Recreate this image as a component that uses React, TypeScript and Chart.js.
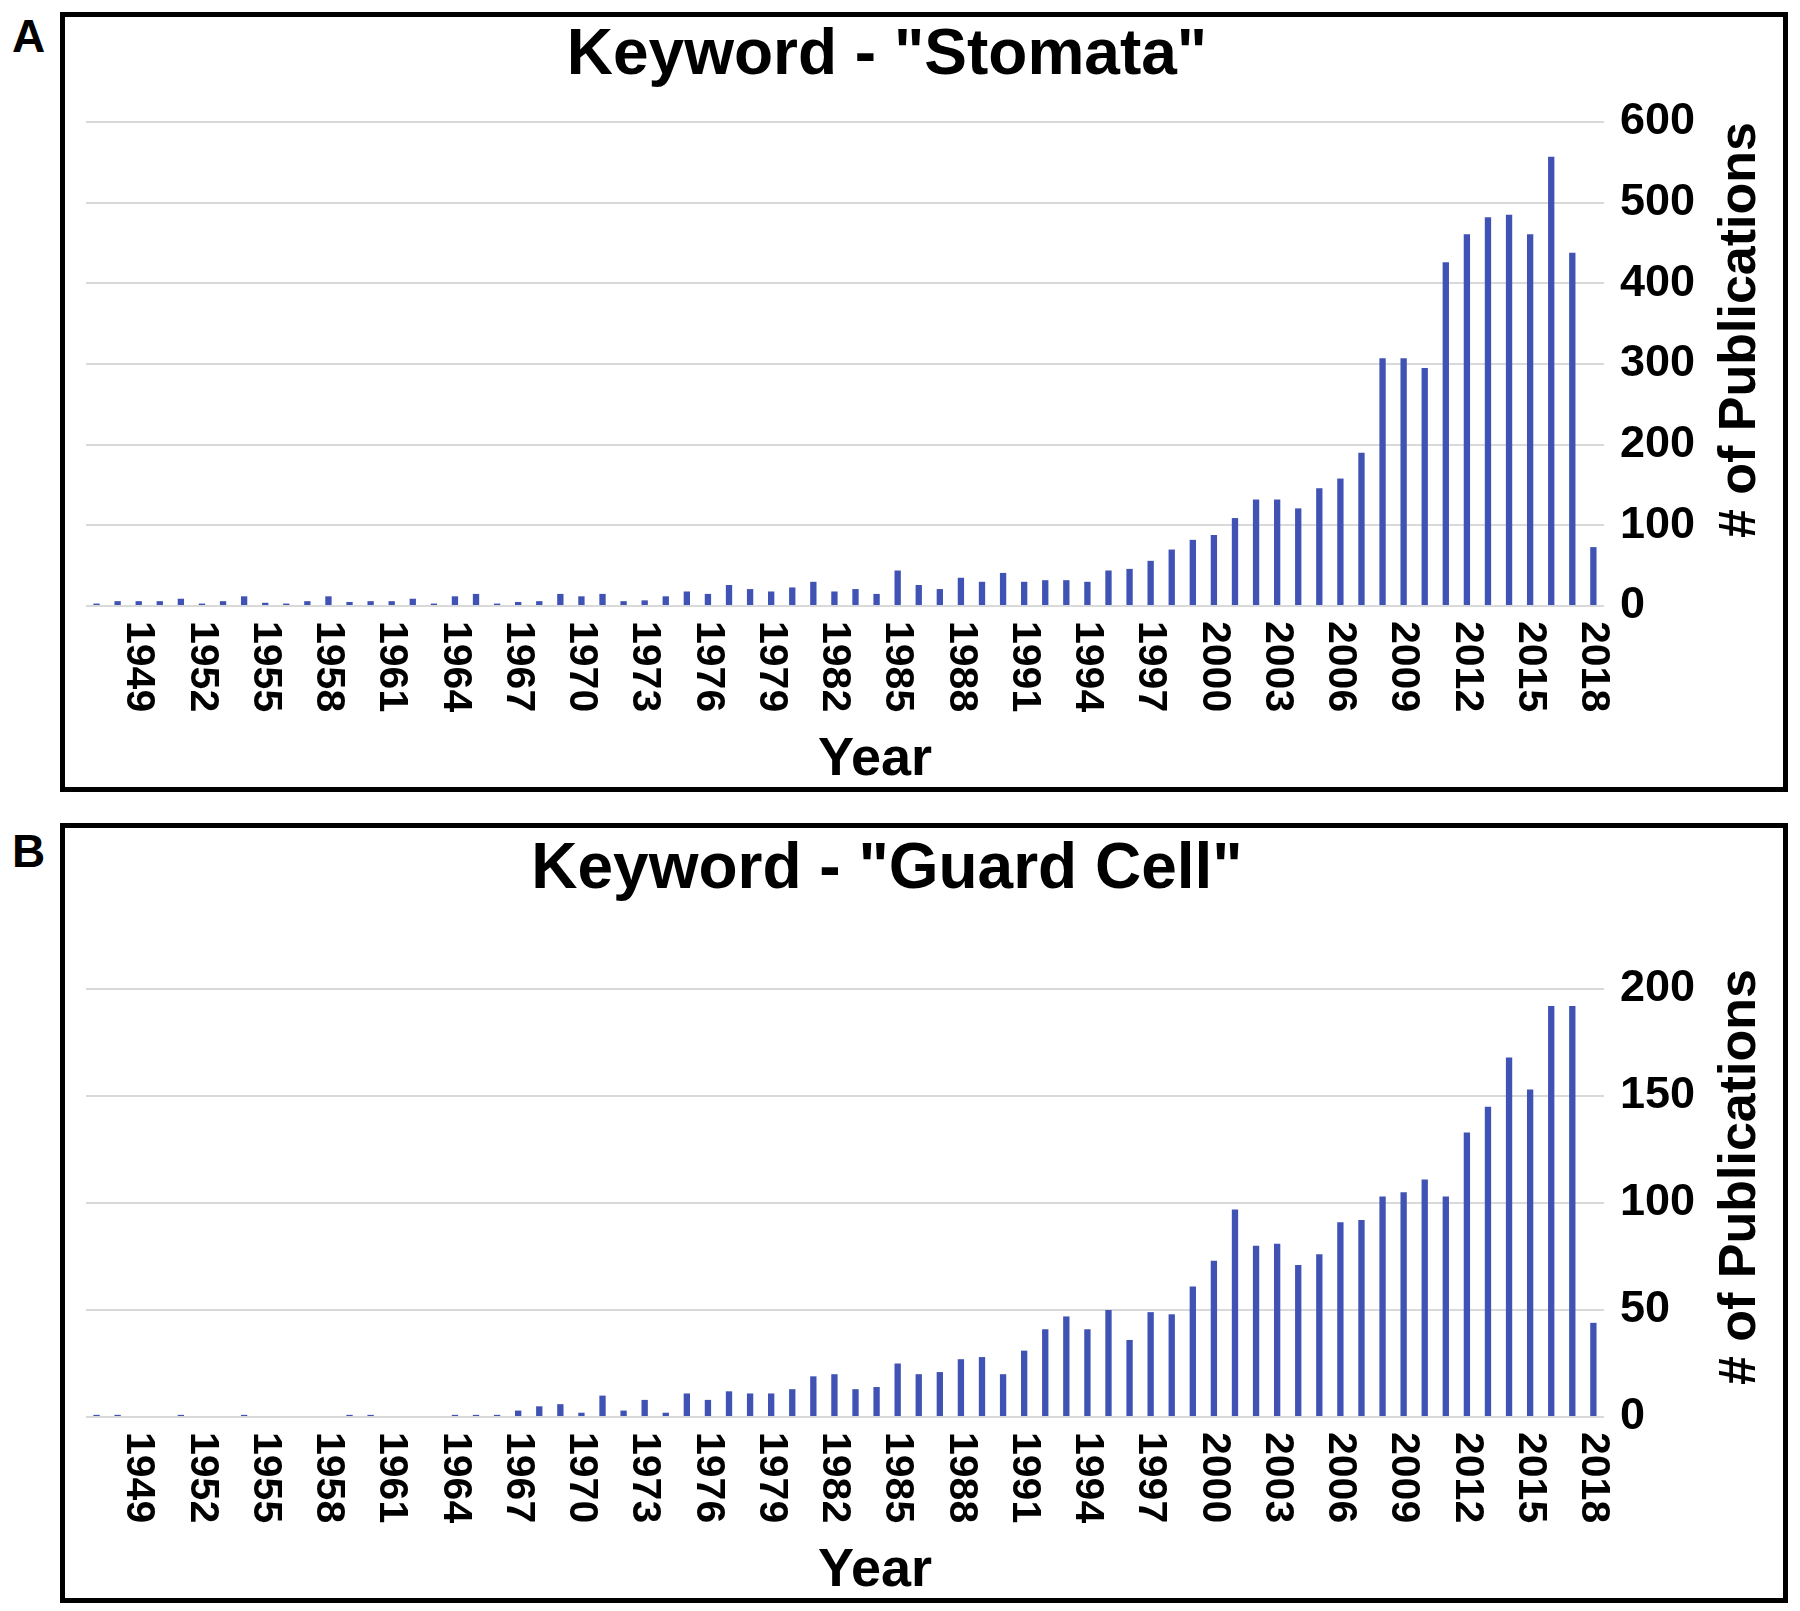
import React, { useEffect, useRef } from 'react';
import { Chart, registerables } from 'chart.js';

Chart.register(...registerables);

const FONT = '"Liberation Sans", Arial, Helvetica, sans-serif';
const BAR_BLUE = '#4052b4';
const GRID_GREY = '#d9d9d9';

const years = [
  '1947', '1948', '1949', '1950', '1951', '1952', '1953', '1954', '1955', '1956',
  '1957', '1958', '1959', '1960', '1961', '1962', '1963', '1964', '1965', '1966',
  '1967', '1968', '1969', '1970', '1971', '1972', '1973', '1974', '1975', '1976',
  '1977', '1978', '1979', '1980', '1981', '1982', '1983', '1984', '1985', '1986',
  '1987', '1988', '1989', '1990', '1991', '1992', '1993', '1994', '1995', '1996',
  '1997', '1998', '1999', '2000', '2001', '2002', '2003', '2004', '2005', '2006',
  '2007', '2008', '2009', '2010', '2011', '2012', '2013', '2014', '2015', '2016',
  '2017', '2018',
];

// only every third year is labelled on the x axis
const tickYears = [
  '1949', '1952', '1955', '1958', '1961', '1964', '1967', '1970', '1973', '1976',
  '1979', '1982', '1985', '1988', '1991', '1994', '1997', '2000', '2003', '2006',
  '2009', '2012', '2015', '2018',
];

const stomataCounts = [
  3, 6, 6, 6, 9, 3, 6, 12, 4, 3,
  6, 12, 5, 6, 6, 9, 3, 12, 15, 3,
  5, 6, 15, 12, 15, 6, 7, 12, 18, 15,
  26, 21, 18, 23, 30, 18, 21, 15, 44, 26,
  21, 35, 30, 41, 30, 32, 32, 30, 44, 46,
  56, 70, 82, 88, 109, 132, 132, 121, 146, 158,
  190, 307, 307, 295, 426, 461, 482, 485, 461, 557,
  438, 73,
];

const guardCellCounts = [
  1, 1, 0, 0, 1, 0, 0, 1, 0, 0,
  0, 0, 1, 1, 0, 0, 0, 1, 1, 1,
  3, 5, 6, 2, 10, 3, 8, 2, 11, 8,
  12, 11, 11, 13, 19, 20, 13, 14, 25, 20,
  21, 27, 28, 20, 31, 41, 47, 41, 50, 36,
  49, 48, 61, 73, 97, 80, 81, 71, 76, 91,
  92, 103, 105, 111, 103, 133, 145, 168, 153, 192,
  192, 44,
];

// draws the title, the clockwise year labels, "Year" and the y caption
const panelText = {
  id: 'panelText',
  afterDraw(chart: any, _args: any, opts: any) {
    const { ctx, chartArea } = chart;
    const xScale = chart.scales.x;
    const yScale = chart.scales.y;
    const mid = (chartArea.left + chartArea.right) / 2;
    ctx.save();
    ctx.fillStyle = '#000';

    ctx.font = `bold 64px ${FONT}`;
    ctx.textAlign = 'center';
    ctx.textBaseline = 'alphabetic';
    ctx.fillText(opts.title, mid + 42, opts.titleY);

    ctx.font = `bold 41px ${FONT}`;
    ctx.textAlign = 'left';
    ctx.textBaseline = 'middle';
    tickYears.forEach((yr) => {
      const px = xScale.getPixelForValue(years.indexOf(yr));
      ctx.save();
      ctx.translate(px, chartArea.bottom + 15);
      ctx.rotate(Math.PI / 2);
      ctx.fillText(yr, 0, 0);
      ctx.restore();
    });

    ctx.font = `bold 54px ${FONT}`;
    ctx.textAlign = 'center';
    ctx.textBaseline = 'alphabetic';
    ctx.fillText('Year', mid + 30, opts.yearY);

    // y caption reads bottom to top, its end level with the top of the plot
    ctx.font = `bold 52px ${FONT}`;
    ctx.textAlign = 'right';
    ctx.textBaseline = 'middle';
    ctx.save();
    ctx.translate(yScale.right + 30, chartArea.top + opts.yTitleShift);
    ctx.rotate(-Math.PI / 2);
    ctx.fillText('# of Publications', 0, 0);
    ctx.restore();

    ctx.restore();
  },
};

interface PanelProps {
  letter: string;
  letterTop: number;
  top: number;
  title: string;
  titleY: number;
  counts: number[];
  yMax: number;
  yStep: number;
  plotTop: number;
  yTitleShift: number;
}

const Panel: React.FC<PanelProps> = ({ letter, letterTop, top, title, titleY, counts, yMax, yStep, plotTop, yTitleShift }) => {
  const chartRef = useRef<HTMLCanvasElement | null>(null);

  useEffect(() => {
    if (!chartRef.current) return;
    const chart = new Chart(chartRef.current, {
      type: 'bar',
      data: {
        labels: years,
        datasets: [
          {
            label: title,
            data: counts,
            backgroundColor: BAR_BLUE,
            barPercentage: 0.3,
            categoryPercentage: 1,
          },
        ],
      },
      options: {
        animation: false,
        responsive: true,
        maintainAspectRatio: false,
        layout: { padding: { left: 21, right: 72, top: plotTop, bottom: 58 } },
        plugins: {
          legend: { display: false },
          tooltip: { enabled: false },
          title: { display: false },
          panelText: { title, titleY, yearY: 758, yTitleShift },
        } as any,
        scales: {
          x: {
            grid: { display: false, drawTicks: false },
            border: { display: false },
            ticks: { display: false },
            afterFit: (scale: any) => {
              scale.height = 123;
            },
          },
          y: {
            position: 'right',
            min: 0,
            max: yMax,
            grid: { color: GRID_GREY, lineWidth: 2, drawTicks: false },
            border: { display: false },
            ticks: {
              stepSize: yStep,
              padding: 16,
              color: '#000',
              font: { family: FONT, size: 45, weight: 'bold' },
            },
          },
        },
      },
      plugins: [panelText],
    });

    return () => {
      chart.destroy();
    };
  }, [title, titleY, counts, yMax, yStep, plotTop, yTitleShift]);

  return (
    <>
      <div
        style={{
          position: 'absolute',
          left: 12,
          top: letterTop,
          font: `bold 46px ${FONT}`,
          lineHeight: 1,
          color: '#000',
        }}
      >
        {letter}
      </div>
      <div
        style={{
          position: 'absolute',
          left: 60,
          top,
          width: 1728,
          height: 780,
          boxSizing: 'border-box',
          border: '5px solid #000',
          background: '#fff',
        }}
      >
        <div style={{ position: 'relative', width: '100%', height: '100%' }}>
          <canvas ref={chartRef} />
        </div>
      </div>
    </>
  );
};

export default function App() {
  return (
    <div style={{ position: 'absolute', left: 0, top: 0, width: 1800, height: 1611, background: '#fff' }}>
      <Panel
        letter="A"
        letterTop={13}
        top={12}
        title={'Keyword - "Stomata"'}
        titleY={57}
        counts={stomataCounts}
        yMax={600}
        yStep={100}
        plotTop={105}
        yTitleShift={0}
      />
      <Panel
        letter="B"
        letterTop={828}
        top={823}
        title={'Keyword - "Guard Cell"'}
        titleY={60}
        counts={guardCellCounts}
        yMax={200}
        yStep={50}
        plotTop={161}
        yTitleShift={-20}
      />
    </div>
  );
}
